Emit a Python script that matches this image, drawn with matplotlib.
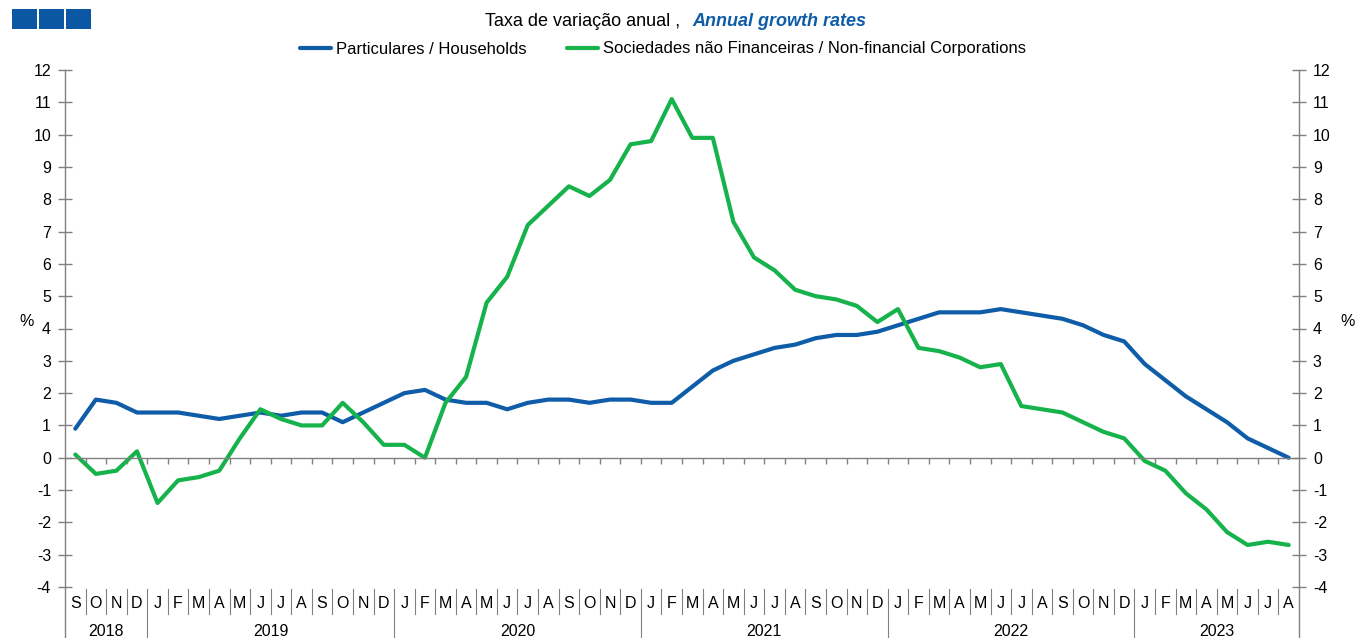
import matplotlib
matplotlib.use("Agg")
import matplotlib.pyplot as plt
from matplotlib.patches import Rectangle
from matplotlib.transforms import blended_transform_factory

plt.rcParams['font.family'] = ['Liberation Sans', 'DejaVu Sans']
plt.rcParams['axes.unicode_minus'] = False

# ---------------- data ----------------
months = ['S', 'O', 'N', 'D',
          'J', 'F', 'M', 'A', 'M', 'J', 'J', 'A', 'S', 'O', 'N', 'D',
          'J', 'F', 'M', 'A', 'M', 'J', 'J', 'A', 'S', 'O', 'N', 'D',
          'J', 'F', 'M', 'A', 'M', 'J', 'J', 'A', 'S', 'O', 'N', 'D',
          'J', 'F', 'M', 'A', 'M', 'J', 'J', 'A', 'S', 'O', 'N', 'D',
          'J', 'F', 'M', 'A', 'M', 'J', 'J', 'A']
years = ['2018', '2019', '2020', '2021', '2022', '2023']
months_per_year = [4, 12, 12, 12, 12, 8]

households = [0.9, 1.8, 1.7, 1.4,
              1.4, 1.4, 1.3, 1.2, 1.3, 1.4, 1.3, 1.4, 1.4, 1.1, 1.4, 1.7,
              2.0, 2.1, 1.8, 1.7, 1.7, 1.5, 1.7, 1.8, 1.8, 1.7, 1.8, 1.8,
              1.7, 1.7, 2.2, 2.7, 3.0, 3.2, 3.4, 3.5, 3.7, 3.8, 3.8, 3.9,
              4.1, 4.3, 4.5, 4.5, 4.5, 4.6, 4.5, 4.4, 4.3, 4.1, 3.8, 3.6,
              2.9, 2.4, 1.9, 1.5, 1.1, 0.6, 0.3, 0.0]
corporations = [0.1, -0.5, -0.4, 0.2,
                -1.4, -0.7, -0.6, -0.4, 0.6, 1.5, 1.2, 1.0, 1.0, 1.7, 1.1, 0.4,
                0.4, 0.0, 1.7, 2.5, 4.8, 5.6, 7.2, 7.8, 8.4, 8.1, 8.6, 9.7,
                9.8, 11.1, 9.9, 9.9, 7.3, 6.2, 5.8, 5.2, 5.0, 4.9, 4.7, 4.2,
                4.6, 3.4, 3.3, 3.1, 2.8, 2.9, 1.6, 1.5, 1.4, 1.1, 0.8, 0.6,
                -0.1, -0.4, -1.1, -1.6, -2.3, -2.7, -2.6, -2.7]

label_households = 'Particulares / Households'
label_corporations = 'Sociedades não Financeiras / Non-financial Corporations'
y_ticks = list(range(-4, 13))

# ---------------- style ----------------
W, H = 1355, 638
BLUE = '#0F5CA8'
GREEN = '#16B24B'
GRAY = '#808080'
FS = 11.5

fig = plt.figure(figsize=(W / 100, H / 100), dpi=100)
ax_left, ax_right, ax_top, ax_bot = 65, 1299, 70, 587
ax = fig.add_axes([ax_left / W, (H - ax_bot) / H,
                   (ax_right - ax_left) / W, (ax_bot - ax_top) / H])
ax_h = ax_bot - ax_top

x = list(range(len(months)))
ax.plot(x, households, color=BLUE, lw=3, label=label_households,
        solid_joinstyle='round', solid_capstyle='round')
ax.plot(x, corporations, color=GREEN, lw=3, label=label_corporations,
        solid_joinstyle='round', solid_capstyle='round')

ax.set_xlim(-0.5, len(months) - 0.5)
ax.set_ylim(-4, 12)

# spines
ax.spines['top'].set_visible(False)
for s in ['left', 'right', 'bottom']:
    ax.spines[s].set_color(GRAY)
    ax.spines[s].set_linewidth(1.0)
ax.spines['bottom'].set_position(('data', 0))

# y ticks both sides
ax.set_yticks(y_ticks)
ax.tick_params(axis='y', which='both', left=True, right=True,
               labelleft=True, labelright=True, direction='inout',
               length=10, width=1, color=GRAY, labelsize=FS, pad=5)

# x ticks at month boundaries on the zero line
ax.set_xticks([i + 0.5 for i in range(len(months) - 1)])
ax.tick_params(axis='x', direction='out', length=4, width=1, color=GRAY,
               labelbottom=False)

# category labels
trans = blended_transform_factory(ax.transData, ax.transAxes)
y_sep_bot = -(614 - ax_bot) / ax_h
y_month = -(604 - ax_bot) / ax_h
y_year = -(631 - ax_bot) / ax_h
y_fig_bot = -(H - ax_bot) / ax_h

for i, m in enumerate(months):
    ax.text(i, y_month, m, transform=trans, ha='center', va='center',
            fontsize=FS, color='black')
year_bounds = []
start = 0
for yr, n in zip(years, months_per_year):
    ax.text(start + (n - 1) / 2, y_year, yr, transform=trans, ha='center',
            va='center', fontsize=FS, color='black')
    start += n
    year_bounds.append(start - 0.5)

for i in range(len(months) - 1):
    b = i + 0.5
    bottom = y_fig_bot if b in year_bounds else y_sep_bot
    ax.plot([b, b], [-0.003, bottom], transform=trans, color=GRAY, lw=0.8,
            clip_on=False)
# extend left/right spines to the bottom
for xb in [-0.5, len(months) - 0.5]:
    ax.plot([xb, xb], [0, y_fig_bot], transform=trans, color=GRAY, lw=1.0,
            clip_on=False)

# % labels
fig.text(27 / W, 1 - 321 / H, '%', ha='center', va='center', fontsize=FS)
fig.text(1348 / W, 1 - 321 / H, '%', ha='center', va='center', fontsize=FS)

# title
fig.text(485 / W, 1 - 21 / H, 'Taxa de variação anual ,', ha='left',
         va='center', fontsize=13, color='black')
fig.text(692 / W, 1 - 21 / H, 'Annual growth rates', ha='left',
         va='center', fontsize=13, color=BLUE, fontweight='bold',
         fontstyle='italic')

# legend
leg = fig.legend(loc='center', bbox_to_anchor=(663 / W, 1 - 49 / H), ncol=2,
                 frameon=False, fontsize=12, handlelength=1.9,
                 handletextpad=0.3, columnspacing=2.4)

# blue squares
for x0 in [12, 39, 66]:
    fig.patches.append(Rectangle((x0 / W, 1 - 29 / H), 25 / W, 20 / H,
                                 transform=fig.transFigure,
                                 facecolor='#0B57A4', edgecolor='none'))

fig.savefig('out.png', dpi=100)
